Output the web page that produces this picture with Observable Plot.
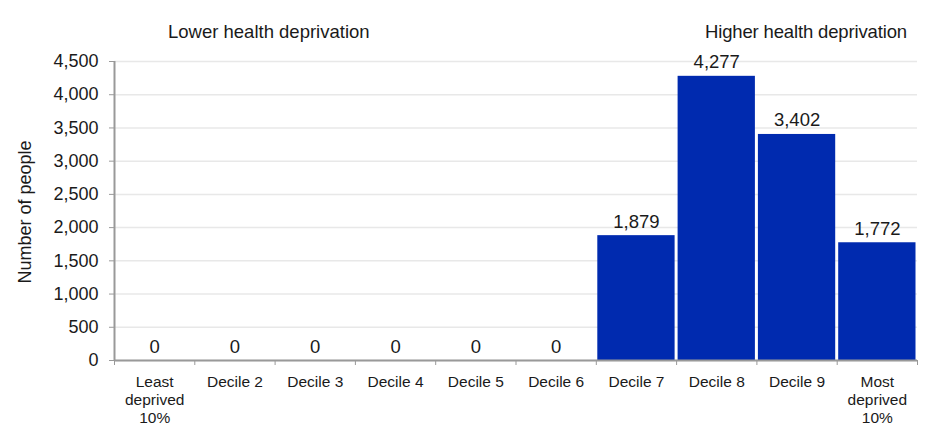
<!DOCTYPE html>
<html>
<head>
<meta charset="utf-8">
<script src="https://cdn.jsdelivr.net/npm/d3@7"></script>
<script src="https://cdn.jsdelivr.net/npm/@observablehq/plot@0.6"></script>
<style>
  html, body { margin: 0; padding: 0; background: #fff; }
  #wrap { position: relative; width: 928px; height: 447px; font-family: "Liberation Sans", Arial, sans-serif; color: #1a1a1a; }
  .hdr { position: absolute; top: 21px; font-size: 18.5px; line-height: 22px; white-space: nowrap; }
  #ylab { position: absolute; left: 25px; top: 212px; font-size: 18px; white-space: nowrap;
          transform: translate(-50%, -50%) rotate(-90deg); line-height: 20px; }
</style>
</head>
<body>
<div id="wrap">
  <div class="hdr" id="hl" style="left:168px;">Lower health deprivation</div>
  <div class="hdr" id="hr" style="left:705px; letter-spacing:-0.15px;">Higher health deprivation</div>
  <div id="ylab"></div>
</div>
<script>
const categories = ["Least\ndeprived\n10%", "Decile 2", "Decile 3", "Decile 4", "Decile 5", "Decile 6", "Decile 7", "Decile 8", "Decile 9", "Most\ndeprived\n10%"];
const values = [0, 0, 0, 0, 0, 0, 1879, 4277, 3402, 1772];
const yTicks = [0, 500, 1000, 1500, 2000, 2500, 3000, 3500, 4000, 4500];
const yLabel = "Number of people";

const data = categories.map((c, i) => ({i, category: c, value: values[i]}));
const fmt = d3.format(",");

document.getElementById("ylab").textContent = yLabel;

const chart = Plot.plot({
  width: 928,
  height: 447,
  marginTop: 61,
  marginBottom: 87,
  marginLeft: 114,
  marginRight: 11,
  style: {fontFamily: "'Liberation Sans', Arial, sans-serif", fontSize: "16px", color: "#1a1a1a", background: "transparent"},
  x: {domain: [0, categories.length], axis: null},
  y: {domain: [0, 4500], axis: null},
  marks: [
    Plot.gridY(yTicks, {stroke: "#e8e8e8", strokeOpacity: 1, strokeWidth: 1.5}),
    Plot.rectY(data, {x1: "i", x2: d => d.i + 1, y: "value", fill: "#002aaf", insetLeft: 1.5, insetRight: 1.5}),
    Plot.text(data, {x: d => d.i + 0.5, y: "value", text: d => fmt(d.value), lineAnchor: "bottom", dy: -8, fontSize: 18.5}),
    Plot.axisY(yTicks, {tickFormat: fmt, tickSize: 5, tickPadding: 11, stroke: "#999", fontSize: 18, label: null}),
    Plot.axisX(d3.range(categories.length + 1), {tickSize: 5, tickFormat: () => "", stroke: "#999", label: null}),
    Plot.ruleY([0], {stroke: "#999", strokeWidth: 2}),
    Plot.ruleX([0], {stroke: "#999", strokeWidth: 2}),
    Plot.text(data, {x: d => d.i + 0.5, frameAnchor: "bottom", text: "category", lineAnchor: "top", dy: 13, fontSize: 15.5, lineHeight: 1.18})
  ]
});
chart.style.position = "absolute";
chart.style.left = "0";
chart.style.top = "0";
document.getElementById("wrap").prepend(chart);
</script>
</body>
</html>
